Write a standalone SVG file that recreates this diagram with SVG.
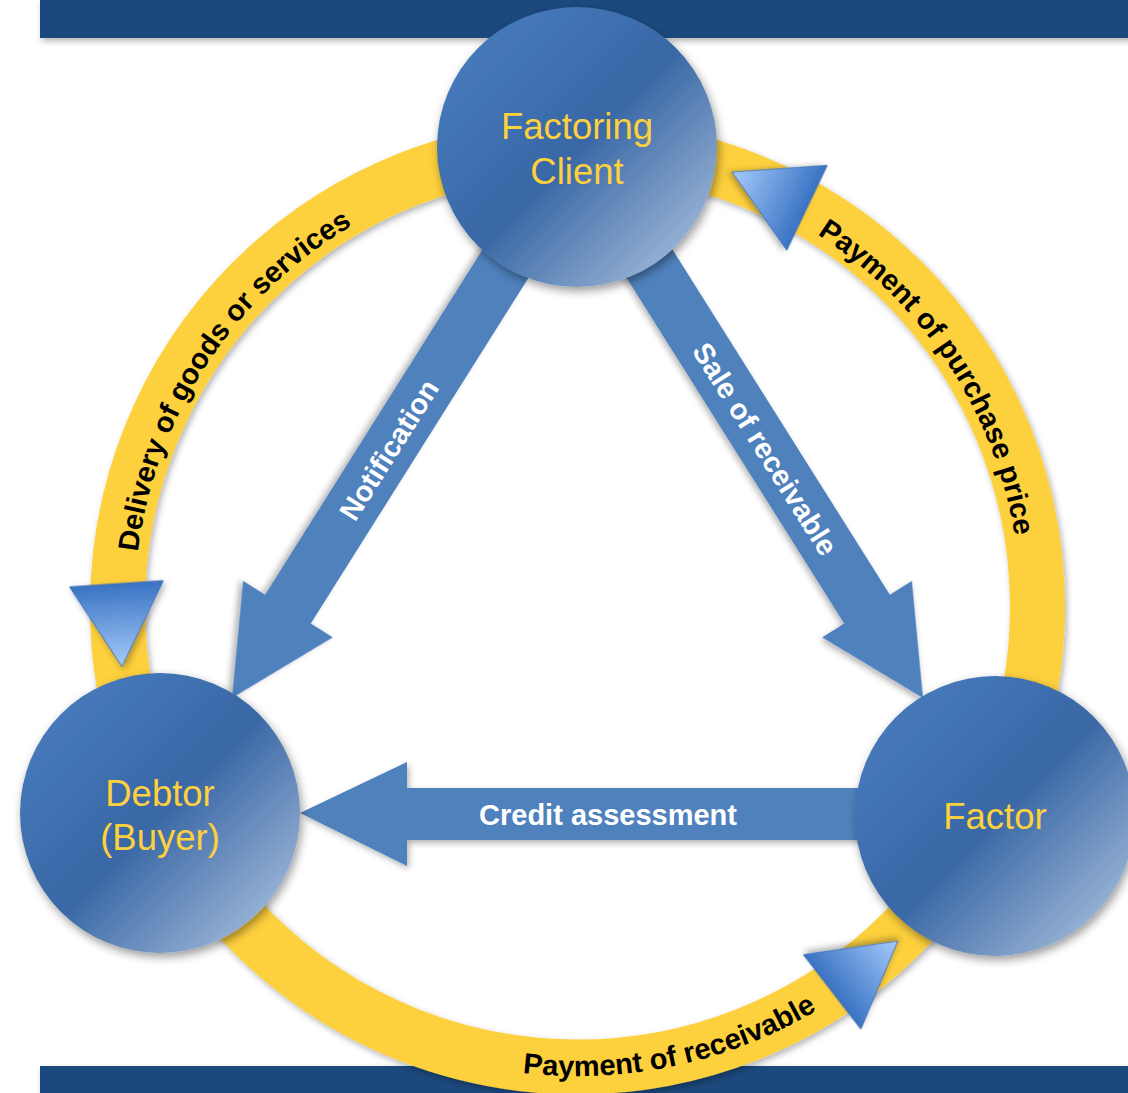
<svg xmlns="http://www.w3.org/2000/svg" width="1128" height="1093" viewBox="0 0 1128 1093">
  <defs>
    <linearGradient id="circGrad" x1="0" y1="0" x2="1" y2="1">
      <stop offset="0" stop-color="#4b80c3"/>
      <stop offset="0.5" stop-color="#3967a5"/>
      <stop offset="1" stop-color="#b8cce5"/>
    </linearGradient>
    <linearGradient id="triGrad" x1="0" y1="0" x2="0" y2="1">
      <stop offset="0" stop-color="#3a73c3"/>
      <stop offset="1" stop-color="#a6cbfb"/>
    </linearGradient>
    <filter id="shadow" x="-20%" y="-20%" width="140%" height="140%">
      <feDropShadow dx="2" dy="4" stdDeviation="5" flood-color="#000" flood-opacity="0.4"/>
    </filter>
    <filter id="softShadow" x="-20%" y="-20%" width="140%" height="140%">
      <feDropShadow dx="2" dy="3" stdDeviation="3" flood-color="#000" flood-opacity="0.3"/>
    </filter>
    <path id="triShape" d="M-47,-28 L47,-28 L0,55 Z"/>
    <path id="arcDelivery" d="M 134.5 607 A 443 443 0 0 1 401.6 200.3"/>
    <path id="arcPurchase" d="M 754.2 200.8 A 443 443 0 0 1 1020.5 607"/>
    <path id="arcReceivable" d="M 401.8 1041.9 A 469 469 0 0 0 914.9 932.8"/>
    <style>
      .banner { fill: #1f497d; }
      .ring { fill: none; stroke: #fdd03e; stroke-width: 55; }
      .arrow { fill: #4f81bd; }
      .node circle { fill: url(#circGrad); }
      .nodeText { font-family: "Liberation Sans", Arial, sans-serif; font-size: 36.5px; fill: #fdd03e; text-anchor: middle; }
      .arrowText { font-family: "Liberation Sans", Arial, sans-serif; font-size: 29px; font-weight: bold; fill: #ffffff; text-anchor: middle; }
      .ringText { font-family: "Liberation Sans", Arial, sans-serif; font-size: 29px; font-weight: bold; fill: #000000; text-anchor: middle; }
      .tri { fill: url(#triGrad); stroke: #4070b5; stroke-width: 1; }
    </style>
  </defs>

  <rect width="1128" height="1093" fill="#ffffff"/>

  <g id="banners">
    <rect class="banner" x="40" y="0" width="1100" height="38" filter="url(#softShadow)"/>
    <rect class="banner" x="40" y="1066" width="1100" height="30" filter="url(#softShadow)"/>
  </g>

  <g id="cycle">
    <circle class="ring" cx="577.5" cy="607" r="460" filter="url(#softShadow)"/>
  </g>

  <g id="connectors">
    <polygon id="edge-notification" class="arrow" filter="url(#softShadow)" transform="translate(232,698) rotate(122.2)" points="0,0 -105,-53 -105,-27 -540,-27 -540,27 -105,27 -105,53"/>
    <polygon id="edge-sale" class="arrow" filter="url(#softShadow)" transform="translate(923,698) rotate(57.8)" points="0,0 -105,-53 -105,-27 -540,-27 -540,27 -105,27 -105,53"/>
    <polygon id="edge-credit" class="arrow" filter="url(#softShadow)" points="300,813 407,762 407,788 880,788 880,840 407,840 407,866"/>
    <use href="#triShape" class="tri" filter="url(#softShadow)" transform="translate(118.3,611.7) rotate(-3.8)"/>
    <use href="#triShape" class="tri" filter="url(#softShadow)" transform="translate(781.7,195.7) rotate(115.5)"/>
    <use href="#triShape" class="tri" filter="url(#softShadow)" transform="translate(854.3,974.7) rotate(-127.7)"/>
    <text class="arrowText" transform="translate(389,450) rotate(-57.8)" x="0" y="10">Notification</text>
    <text class="arrowText" transform="translate(765,449) rotate(57.8)" x="0" y="10">Sale of receivable</text>
    <text class="arrowText" x="608" y="825">Credit assessment</text>
    <text class="ringText"><textPath href="#arcDelivery" startOffset="50%">Delivery of goods or services</textPath></text>
    <text class="ringText"><textPath href="#arcPurchase" startOffset="50%">Payment of purchase price</textPath></text>
    <text class="ringText"><textPath href="#arcReceivable" startOffset="50%">Payment of receivable</textPath></text>
  </g>

  <g id="node-client" class="node">
    <circle cx="577" cy="147" r="140" filter="url(#shadow)"/>
    <text class="nodeText" x="577" y="139">Factoring</text>
    <text class="nodeText" x="577" y="184">Client</text>
  </g>
  <g id="node-debtor" class="node">
    <circle cx="160" cy="813" r="140" filter="url(#shadow)"/>
    <text class="nodeText" x="160" y="806">Debtor</text>
    <text class="nodeText" x="160" y="850">(Buyer)</text>
  </g>
  <g id="node-factor" class="node">
    <circle cx="995" cy="816" r="140" filter="url(#shadow)"/>
    <text class="nodeText" x="995" y="829">Factor</text>
  </g>
</svg>
